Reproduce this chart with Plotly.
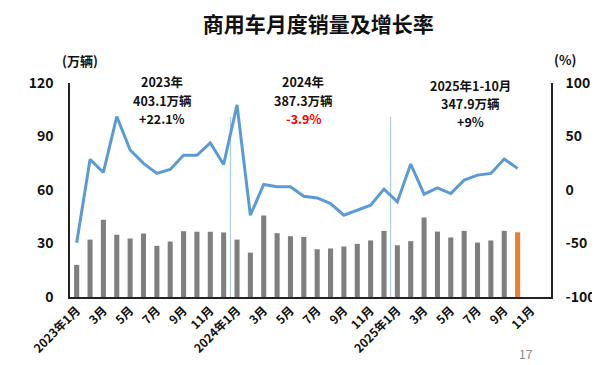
import plotly.graph_objects as go

# ---------------- data ----------------
months = [f"{y}年{m}月" for y in (2023, 2024, 2025) for m in range(1, 13)]
tick_text = ["2023年1月", "3月", "5月", "7月", "9月", "11月",
             "2024年1月", "3月", "5月", "7月", "9月", "11月",
             "2025年1月", "3月", "5月", "7月", "9月", "11月"]
sales_2023 = [18.0, 32.2, 43.3, 34.9, 32.8, 35.6, 28.7, 31.1, 36.9, 36.6, 36.6, 36.2]
sales_2024 = [32.2, 24.9, 45.7, 35.8, 34.1, 33.7, 26.8, 27.2, 28.3, 29.8, 31.7, 37.1]
sales_2025 = [29.0, 31.3, 44.6, 36.7, 33.4, 37.1, 30.5, 31.7, 37.1, 36.3]
growth = [-49.3, 28.6, 16.4, 68.7, 37.4, 24.9, 15.5, 19.2, 32.4, 32.4, 44.0, 23.9,
          79.6, -23.6, 5.2, 3.0, 3.0, -5.8, -7.4, -12.7, -23.6, -18.9, -14.2, 0.8,
          -11.1, 24.2, -3.9, 2.0, -3.3, 9.2, 13.9, 15.5, 28.9, 20.2]
ann_2023 = ["2023年", "403.1万辆", "+22.1%"]
ann_2024 = ["2024年", "387.3万辆", "-3.9%"]
ann_2025 = ["2025年1-10月", "347.9万辆", "+9%"]

sales = sales_2023 + sales_2024 + sales_2025
x = months[:len(sales)]
bar_colors = ["#7F7F7F"] * (len(sales) - 1) + ["#ED7D31"]

FONT = "Noto Sans CJK SC"

fig = go.Figure()
fig.add_trace(go.Bar(x=x, y=sales, marker_color=bar_colors, marker_line_width=0,
                     yaxis="y", showlegend=False))
fig.add_trace(go.Scatter(x=x, y=growth, mode="lines", yaxis="y2",
                         line=dict(color="#5B9BD5", width=3), showlegend=False))

# year separators
for pos in (11.5, 23.5):
    fig.add_shape(type="line", xref="x", yref="y", x0=pos, x1=pos, y0=0, y1=101,
                  line=dict(color="#9DC3E6", width=1), layer="below")

fig.update_layout(
    width=600, height=365,
    margin=dict(l=62, r=53, t=75, b=76),
    paper_bgcolor="white", plot_bgcolor="white",
    font=dict(family=FONT, color="#000000"),
    bargap=0.62,
    title=dict(text="<b>商用车月度销量及增长率</b>", x=0.517, xanchor="center",
               y=0.955, yanchor="middle", font=dict(size=21, family=FONT, color="#111111")),
    xaxis=dict(type="category", categoryorder="array", categoryarray=months,
               range=[-0.5, len(months) - 0.5],
               tickmode="array", tickvals=months[::2],
               ticktext=[f"<b>{t}</b>" for t in tick_text],
               tickangle=-45, tickfont=dict(size=12, family=FONT, color="#111111"),
               showline=True, linecolor="#222222", linewidth=1.5,
               showgrid=False, ticks="", zeroline=False),
    yaxis=dict(range=[0, 120], tickvals=[0, 30, 60, 90, 120],
               ticktext=[f"<b>{v}</b>" for v in [0, 30, 60, 90, 120]],
               tickfont=dict(size=14, family=FONT, color="#111111"),
               showline=True, linecolor="#222222", linewidth=1.5,
               showgrid=False, zeroline=False, ticks="outside", ticklen=12,
               tickcolor="rgba(0,0,0,0)"),
    yaxis2=dict(range=[-100, 100], tickvals=[-100, -50, 0, 50, 100],
                ticktext=[f"<b>{v}</b>" for v in [-100, -50, 0, 50, 100]],
                overlaying="y", side="right",
                tickfont=dict(size=14, family=FONT, color="#111111"),
                showline=True, linecolor="#222222", linewidth=1.5,
                showgrid=False, zeroline=False, ticks="outside", ticklen=10,
                tickcolor="rgba(0,0,0,0)"),
)

def px_x(px):
    return (px - 62) / 485

def px_y(py):
    return (289 - py) / 214

def block(lines, xc, ycenter, colors):
    for i, (t, c) in enumerate(zip(lines, colors)):
        fig.add_annotation(text=f"<b>{t}</b>", xref="paper", yref="paper",
                           x=xc, y=px_y(ycenter + i * 18.3), xanchor="center", yanchor="middle",
                           showarrow=False, font=dict(size=12.5, family=FONT, color=c))

block(ann_2023, px_x(155), 74, ["#111111"] * 3)
block(ann_2024, px_x(297), 74, ["#111111", "#111111", "#FF0000"])
block(ann_2025, px_x(466), 77, ["#111111"] * 3)

fig.add_annotation(text="<b>(万辆)</b>", xref="paper", yref="paper", x=px_x(72), y=px_y(52),
                   xanchor="center", yanchor="middle", showarrow=False,
                   font=dict(size=13, family=FONT, color="#111111"))
fig.add_annotation(text="<b>(%)</b>", xref="paper", yref="paper", x=px_x(561), y=px_y(51),
                   xanchor="center", yanchor="middle", showarrow=False,
                   font=dict(size=13, family=FONT, color="#111111"))
fig.add_annotation(text="17", xref="paper", yref="paper", x=px_x(522), y=px_y(356),
                   xanchor="center", yanchor="bottom", showarrow=False,
                   font=dict(size=12, family=FONT, color="#888888"))

fig.write_html("out.html")
